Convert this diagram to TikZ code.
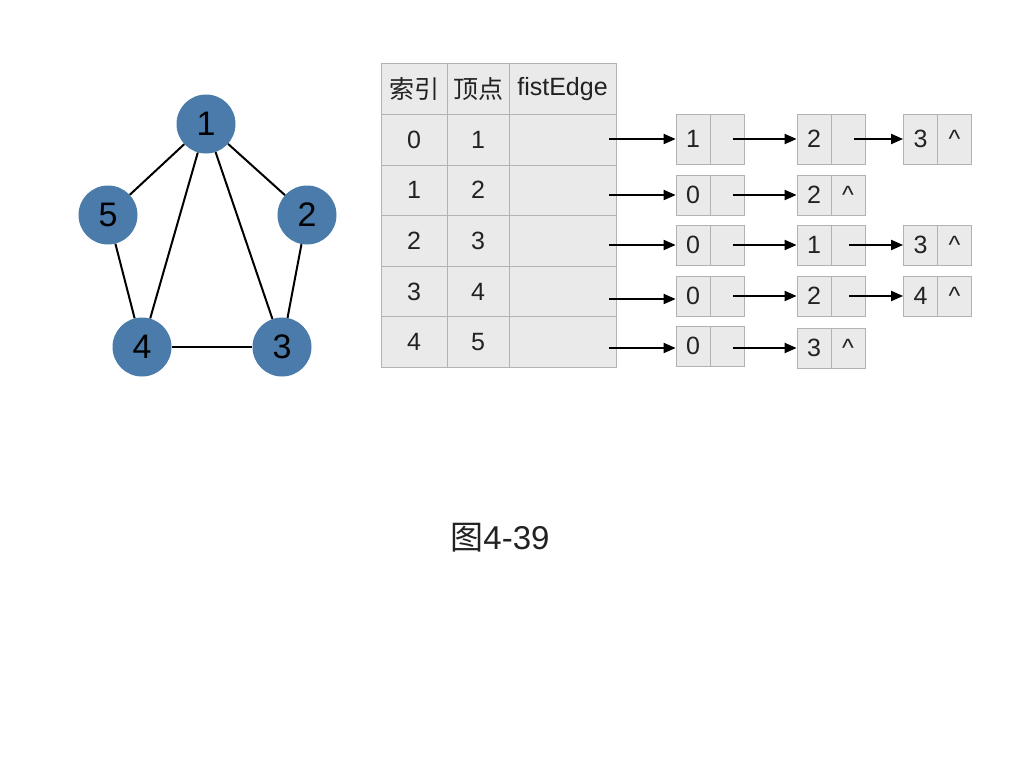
\documentclass[tikz,border=0pt]{standalone}
\usepackage{fontspec}
\setmainfont{Liberation Sans}
\newfontfamily\cjk{Noto Sans CJK SC}
\usetikzlibrary{arrows.meta}
\definecolor{nodeblue}{RGB}{74,123,170}
\definecolor{cellfill}{RGB}{234,234,234}
\definecolor{cellline}{RGB}{178,178,178}
\definecolor{txt}{RGB}{34,34,34}
\begin{document}
\begin{tikzpicture}[x=1pt,y=-1pt,
 vertex/.style={circle, fill=nodeblue, minimum size=59pt, inner sep=0pt, font=\fontsize{34}{34}\selectfont},
 edge/.style={line width=2pt},
 tcell/.style={rectangle, draw=cellline, fill=cellfill, line width=0.8pt, minimum height=50.6pt, inner sep=0pt, font=\fontsize{25}{25}\selectfont, text=txt},
 lcell/.style={rectangle, draw=cellline, fill=cellfill, line width=0.8pt, minimum width=34pt, inner sep=0pt, font=\fontsize{25}{25}\selectfont, text=txt},
 arr/.style={-{Triangle[length=12pt,width=10pt]}, line width=2pt}
]
\useasboundingbox (0,0) rectangle (1024,768);
% graph
\node[vertex] (v1) at (206,124) {1};
\node[vertex] (v5) at (108,215) {5};
\node[vertex] (v2) at (307,215) {2};
\node[vertex] (v4) at (142,347) {4};
\node[vertex] (v3) at (282,347) {3};
\draw[edge] (v1) -- (v5);
\draw[edge] (v1) -- (v2);
\draw[edge] (v1) -- (v4);
\draw[edge] (v1) -- (v3);
\draw[edge] (v5) -- (v4);
\draw[edge] (v2) -- (v3);
\draw[edge] (v4) -- (v3);
% table
\foreach \r/\y/\a/\b in {1/139.6/0/1, 2/190.2/1/2, 3/240.8/2/3, 4/291.4/3/4, 5/342/4/5}{
  \node[tcell, minimum width=66pt] (ta\r) at (414,\y) {\a};
  \node[tcell, minimum width=62pt] (tb\r) at (478,\y) {\b};
  \node[tcell, minimum width=107pt] (tc\r) at (562.5,\y) {};
}
\node[tcell, minimum width=66pt] (ta0) at (414,89) {\cjk 索引};
\node[tcell, minimum width=62pt] (tb0) at (478,89) {\cjk 顶点};
\node[tcell, minimum width=107pt] (tc0) at (562.5,89) {fistEdge};
% linked lists
% row 0
\node[lcell, minimum height=50pt] (a0) at (693,139) {1};
\node[lcell, minimum height=50pt] (a0p) at (727,139) {};
\node[lcell, minimum height=50pt] (b0) at (814,139) {2};
\node[lcell, minimum height=50pt] (b0p) at (848,139) {};
\node[lcell, minimum height=50pt] (c0) at (920.5,139) {3};
\node[lcell, minimum height=50pt] (c0p) at (954.5,139) {\textasciicircum};
% row 1
\node[lcell, minimum height=40pt] (a1) at (693,195) {0};
\node[lcell, minimum height=40pt] (a1p) at (727,195) {};
\node[lcell, minimum height=40pt] (b1) at (814,195) {2};
\node[lcell, minimum height=40pt] (b1p) at (848,195) {\textasciicircum};
% row 2
\node[lcell, minimum height=40pt] (a2) at (693,245) {0};
\node[lcell, minimum height=40pt] (a2p) at (727,245) {};
\node[lcell, minimum height=40pt] (b2) at (814,245) {1};
\node[lcell, minimum height=40pt] (b2p) at (848,245) {};
\node[lcell, minimum height=40pt] (c2) at (920.5,245) {3};
\node[lcell, minimum height=40pt] (c2p) at (954.5,245) {\textasciicircum};
% row 3
\node[lcell, minimum height=40pt] (a3) at (693,296) {0};
\node[lcell, minimum height=40pt] (a3p) at (727,296) {};
\node[lcell, minimum height=40pt] (b3) at (814,296) {2};
\node[lcell, minimum height=40pt] (b3p) at (848,296) {};
\node[lcell, minimum height=40pt] (c3) at (920.5,296) {4};
\node[lcell, minimum height=40pt] (c3p) at (954.5,296) {\textasciicircum};
% row 4
\node[lcell, minimum height=40pt] (a4) at (693,346) {0};
\node[lcell, minimum height=40pt] (a4p) at (727,346) {};
\node[lcell, minimum height=40pt] (b4) at (814,348) {3};
\node[lcell, minimum height=40pt] (b4p) at (848,348) {\textasciicircum};
% arrows from table
\coordinate (p0) at (609,139);
\coordinate (p1) at (609,195);
\coordinate (p2) at (609,245);
\coordinate (p3) at (609,299);
\coordinate (p4) at (609,348);
\draw[arr] (p0) -- (a0.west |- p0);
\draw[arr] (p1) -- (a1.west |- p1);
\draw[arr] (p2) -- (a2.west |- p2);
\draw[arr] (p3) -- (a3.west |- p3);
\draw[arr] (p4) -- (a4.west |- p4);
% arrows between boxes
\draw[arr, shorten <=6pt] (a0p.center) -- (b0.west);
\draw[arr, shorten <=6pt] (b0p.center) -- (c0.west);
\draw[arr, shorten <=6pt] (a1p.center) -- (b1.west);
\draw[arr, shorten <=6pt] (a2p.center) -- (b2.west);
\draw[arr, shorten <=1pt] (b2p.center) -- (c2.west);
\draw[arr, shorten <=6pt] (a3p.center) -- (b3.west);
\draw[arr, shorten <=1pt] (b3p.center) -- (c3.west);
\draw[arr, shorten <=6pt] (a4p.center |- b4.center) -- (b4.west);
% caption
\node[font=\fontsize{33}{33}\selectfont, text=txt] (cap) at (500,538) {{\cjk 图}4-39};
\end{tikzpicture}
\end{document}
